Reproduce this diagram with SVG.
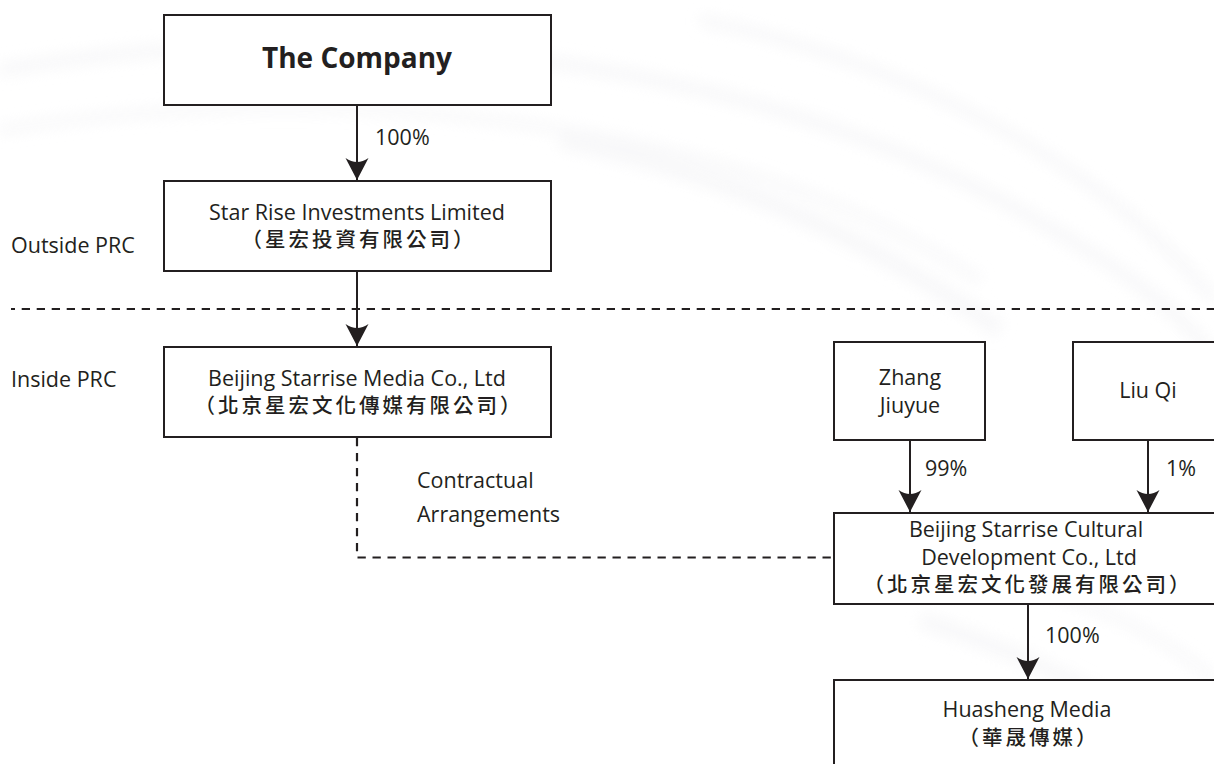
<svg xmlns="http://www.w3.org/2000/svg" width="1214" height="764" viewBox="0 0 1214 764">
  <style>
    .box { fill: #ffffff; stroke: #231f20; stroke-width: 2; }
    .link { fill: none; stroke: #231f20; stroke-width: 2; }
    .dash { fill: none; stroke: #231f20; stroke-width: 2.2; stroke-dasharray: 8.3 6.7; }
    .t { font-family: "Open Sans", "Liberation Sans", sans-serif; font-weight: 400; font-size: 21.5px; fill: #231f20; }
    .c { text-anchor: middle; }
    .title { font-family: "Open Sans", "Liberation Sans", sans-serif; font-weight: 700; font-size: 28px; fill: #231f20; text-anchor: middle; }
    .zh { font-family: "Noto Sans CJK TC", "Noto Sans CJK SC", sans-serif; font-weight: 500; font-size: 20.5px; letter-spacing: 3px; fill: #231f20; text-anchor: middle; }
    .swoosh { fill: none; stroke: #f3f3f5; }
  </style>
  <defs>
    <marker id="arrow" markerUnits="userSpaceOnUse" viewBox="-23 -12 24 24" refX="0" refY="0" markerWidth="24" markerHeight="24" orient="auto">
      <path d="M0 0 L-22 -11.5 Q-14 0 -22 11.5 Z" fill="#231f20"/>
    </marker>
    <filter id="soft" x="-10%" y="-10%" width="120%" height="120%">
      <feGaussianBlur stdDeviation="7"/>
    </filter>
  </defs>

  <rect width="1214" height="764" fill="#ffffff"/>

  <!-- faint background swirl -->
  <g id="backdrop" filter="url(#soft)" opacity="0.55">
    <path class="swoosh" stroke-width="14" d="M0 70 C300 20 700 40 1000 200 S1214 420 1214 420"/>
    <path class="swoosh" stroke-width="10" d="M0 130 C320 80 720 110 980 280"/>
    <path class="swoosh" stroke-width="18" d="M560 140 C760 180 900 260 1000 330"/>
    <path class="swoosh" stroke-width="12" d="M700 20 C900 60 1100 160 1214 300"/>
    <path class="swoosh" stroke-width="16" d="M920 620 C1050 660 1150 720 1214 764"/>
    <path class="swoosh" stroke-width="10" d="M960 570 C1080 590 1170 640 1214 680"/>
  </g>

  <!-- connectors -->
  <g id="connectors">
    <path class="dash" d="M11 309 H1214" stroke-dashoffset="4.3"/>
    <path class="link" d="M357 106 V180" marker-end="url(#arrow)"/>
    <path class="link" d="M357 272 V346" marker-end="url(#arrow)"/>
    <path class="link" d="M910 441 V512" marker-end="url(#arrow)"/>
    <path class="link" d="M1148 441 V512" marker-end="url(#arrow)"/>
    <path class="link" d="M1028 605 V679" marker-end="url(#arrow)"/>
    <path class="dash" d="M357 438 V557.5 H833"/>
    <text class="t" x="375" y="145">100%</text>
    <text class="t" x="925" y="476">99%</text>
    <text class="t" x="1166" y="476">1%</text>
    <text class="t" x="1045" y="643">100%</text>
    <text class="t" x="417" y="488">Contractual</text>
    <text class="t" x="417" y="522">Arrangements</text>
  </g>

  <!-- region labels -->
  <g id="regions">
    <text class="t" x="11" y="253">Outside PRC</text>
    <text class="t" x="11" y="387">Inside PRC</text>
  </g>

  <g id="company">
    <rect class="box" x="164" y="15" width="387" height="90"/>
    <text class="title" x="357" y="68">The Company</text>
  </g>

  <g id="star-rise">
    <rect class="box" x="164" y="181" width="387" height="90"/>
    <text class="t c" x="357" y="220">Star Rise Investments Limited</text>
    <text class="zh" x="359" y="247">（星宏投資有限公司）</text>
  </g>

  <g id="starrise-media">
    <rect class="box" x="164" y="347" width="387" height="90"/>
    <text class="t c" x="357" y="386">Beijing Starrise Media Co., Ltd</text>
    <text class="zh" x="359" y="413">（北京星宏文化傳媒有限公司）</text>
  </g>

  <g id="zhang-jiuyue">
    <rect class="box" x="834" y="342" width="151" height="98"/>
    <text class="t c" x="910" y="385">Zhang</text>
    <text class="t c" x="910" y="413">Jiuyue</text>
  </g>

  <g id="liu-qi">
    <rect class="box" x="1073" y="342" width="160" height="98"/>
    <text class="t c" x="1148" y="398">Liu Qi</text>
  </g>

  <g id="starrise-cultural">
    <rect class="box" x="834" y="513" width="400" height="91"/>
    <text class="t c" x="1026" y="537">Beijing Starrise Cultural</text>
    <text class="t c" x="1029" y="565">Development Co., Ltd</text>
    <text class="zh" x="1028" y="592">（北京星宏文化發展有限公司）</text>
  </g>

  <g id="huasheng-media">
    <rect class="box" x="834" y="680" width="400" height="120"/>
    <text class="t c" x="1027" y="717">Huasheng Media</text>
    <text class="zh" x="1029" y="745">（華晟傳媒）</text>
  </g>
</svg>
